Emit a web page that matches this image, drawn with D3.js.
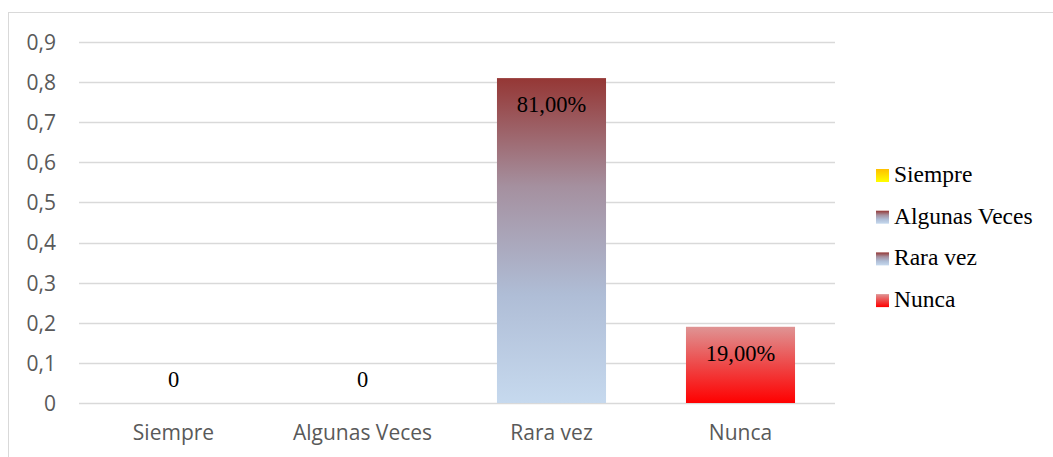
<!DOCTYPE html>
<html>
<head>
<meta charset="utf-8">
<script src="https://cdn.jsdelivr.net/npm/d3@7"></script>
<style>
	body { margin: 0; background: #fff; }
	svg { display: block; }
	.tick text { font-family: "Open Sans", "Noto Sans", sans-serif; font-size: 21px; fill: #595959; }
</style>
</head>
<body>
<svg id="chart" width="1053" height="457"></svg>
<script>
(function (d3) {
	"use strict";

	/***** Data *****/
	var categories = ["Siempre", "Algunas Veces", "Rara vez", "Nunca"];
	var values = [0, 0, 0.81, 0.19];
	var valueLabels = ["0", "0", "81,00%", "19,00%"];
	var yTicks = [0, 0.1, 0.2, 0.3, 0.4, 0.5, 0.6, 0.7, 0.8, 0.9];

	// gradient stops per category (top -> bottom)
	var gradients = [
		["#ffc000", "#ffff00"],
		["#953735", "#a5909f", "#afbdd6", "#c6d9ee"],
		["#953735", "#a5909f", "#afbdd6", "#c6d9ee"],
		["#df9494", "#ee4848", "#ff0000"]
	];

	/***** Layout *****/
	const plotLeft = 79, plotRight = 835;
	const plotTop = 42, plotBottom = 403;

	var svg = d3.select("#chart");

	// chart frame
	svg.append("rect")
		.attr("x", 8.5).attr("y", 12.5)
		.attr("width", 1060).attr("height", 460)
		.attr("fill", "none")
		.attr("stroke", "#d9d9d9");

	// gradients
	var defs = svg.append("defs");
	gradients.forEach(function (stops, i) {
		var lg = defs.append("linearGradient")
			.attr("id", "grad" + i)
			.attr("x1", 0).attr("y1", 0).attr("x2", 0).attr("y2", 1);
		stops.forEach(function (c, j) {
			lg.append("stop")
				.attr("offset", (j / (stops.length - 1) * 100) + "%")
				.attr("stop-color", c);
		});
	});

	/***** Scales *****/
	var x = d3.scaleBand().domain(categories).range([plotLeft, plotRight]).paddingInner(0.423).paddingOuter(0.2115);
	var y = d3.scaleLinear().domain([0, 0.9]).range([plotBottom, plotTop]);
	var fmt = d3.format(".1f");

	// gridlines
	svg.append("g")
		.selectAll("line")
		.data(yTicks)
		.join("line")
		.attr("x1", plotLeft).attr("x2", plotRight)
		.attr("y1", function (d) { return Math.round(y(d)) + 0.5; })
		.attr("y2", function (d) { return Math.round(y(d)) + 0.5; })
		.attr("stroke", "#d9d9d9")
		.attr("stroke-width", 1.3);

	// y axis (labels only)
	var yAxis = svg.append("g")
		.attr("transform", "translate(" + (plotLeft - 23) + ",0)")
		.call(d3.axisLeft(y).tickValues(yTicks).tickSize(0).tickPadding(0)
			.tickFormat(function (d) { return d === 0 ? "0" : fmt(d).replace(".", ","); }));
	yAxis.select(".domain").remove();
	yAxis.selectAll("text").attr("dy", "0.35em");

	// bars
	svg.append("g")
		.selectAll("rect")
		.data(values)
		.join("rect")
		.attr("x", function (d, i) { return x(categories[i]); })
		.attr("y", function (d) { return y(d); })
		.attr("width", x.bandwidth())
		.attr("height", function (d) { return y(0) - y(d); })
		.attr("fill", function (d, i) { return "url(#grad" + i + ")"; });

	// x axis (labels only)
	var xAxis = svg.append("g")
		.attr("transform", "translate(0," + (plotBottom + 22) + ")")
		.call(d3.axisBottom(x).tickSize(0).tickPadding(0));
	xAxis.select(".domain").remove();
	xAxis.selectAll("text").attr("dy", "0.71em");

	// value labels
	svg.append("g")
		.selectAll("text")
		.data(values)
		.join("text")
		.attr("x", function (d, i) { return x(categories[i]) + x.bandwidth() / 2; })
		.attr("y", function (d) { return d > 0 ? y(d) + 34 : y(0) - 16; })
		.attr("text-anchor", "middle")
		.attr("font-family", "'Liberation Serif', 'Times New Roman', serif")
		.attr("font-size", "22.5px")
		.attr("fill", "#000")
		.text(function (d, i) { return valueLabels[i]; });

	// legend
	var legend = svg.append("g")
		.selectAll("g")
		.data(categories)
		.join("g")
		.attr("transform", function (d, i) { return "translate(876," + (169 + i * 41.7) + ")"; });
	legend.append("rect")
		.attr("width", 13).attr("height", 13)
		.attr("fill", function (d, i) { return "url(#grad" + i + ")"; });
	legend.append("text")
		.attr("x", 18).attr("y", 13)
		.attr("font-family", "'Liberation Serif', 'Times New Roman', serif")
		.attr("font-size", "23.5px")
		.attr("fill", "#000")
		.text(function (d) { return d; });

})(d3);
</script>
</body>
</html>
